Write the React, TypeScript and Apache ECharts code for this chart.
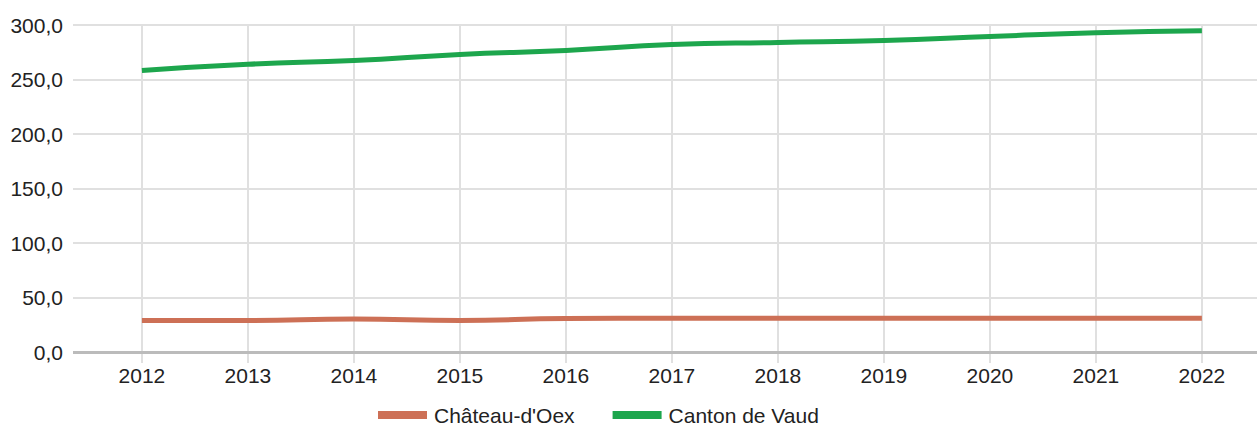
import React, { useEffect, useRef } from "react";
import * as echarts from "echarts";

const years = [2012, 2013, 2014, 2015, 2016, 2017, 2018, 2019, 2020, 2021, 2022];
const chateauDoex = [28.9, 28.9, 30.3, 28.9, 30.7, 31.0, 31.0, 31.0, 31.0, 31.0, 31.0];
const cantonDeVaud = [258.3, 264.0, 267.4, 273.0, 276.6, 282.0, 284.0, 285.8, 289.4, 293.0, 294.8];
const seriesNames = ["Château-d'Oex", "Canton de Vaud"];
const yTicks = [0, 50, 100, 150, 200, 250, 300];

const FONT = "'Liberation Sans', Arial, sans-serif";

export default function App() {
  const ref = useRef<HTMLDivElement>(null);
  useEffect(() => {
    if (!ref.current) return;
    const chart = echarts.init(ref.current, undefined, { renderer: "svg" });
    chart.setOption({
      animation: false,
      textStyle: { fontFamily: FONT },
      grid: { left: 73, right: 0, top: 25, bottom: 76, containLabel: false },
      legend: {
        left: 378,
        top: 404,
        padding: 0,
        icon: "rect",
        itemWidth: 49,
        itemHeight: 8,
        itemGap: 38,
        textStyle: { fontSize: 21, lineHeight: 22, color: "#222", fontFamily: FONT, padding: [0, 0, 0, 2] },
        data: seriesNames,
      },
      xAxis: {
        type: "value",
        min: 2011.35,
        max: 2022.52,
        axisLine: { show: false },
        axisTick: {
          show: true,
          length: 11,
          customValues: years,
          lineStyle: { color: "#e0e0e0", width: 2 },
        },
        axisLabel: {
          customValues: years,
          fontSize: 21,
          color: "#222",
          margin: 13,
          fontFamily: FONT,
          formatter: (v: number) => String(v),
        },
        splitLine: { show: true, lineStyle: { color: "#e0e0e0", width: 2 } },
      },
      yAxis: {
        type: "value",
        min: 0,
        max: 300,
        interval: 50,
        axisLine: { show: false },
        axisTick: { show: false },
        axisLabel: {
          fontSize: 21,
          color: "#222",
          margin: 10,
          fontFamily: FONT,
          formatter: (v: number) => (yTicks.includes(v) ? v.toFixed(1).replace(".", ",") : ""),
        },
        splitLine: { show: true, lineStyle: { color: "#e0e0e0", width: 2 } },
      },
      series: [
        {
          name: seriesNames[0],
          type: "line",
          smooth: true,
          symbol: "none",
          data: years.map((y, i) => [y, chateauDoex[i]]),
          lineStyle: { color: "#cd7056", width: 5 },
          itemStyle: { color: "#cd7056" },
          z: 3,
        },
        {
          name: seriesNames[1],
          type: "line",
          smooth: true,
          symbol: "none",
          data: years.map((y, i) => [y, cantonDeVaud[i]]),
          lineStyle: { color: "#1da64d", width: 5 },
          itemStyle: { color: "#1da64d" },
          z: 3,
        },
        {
          type: "line",
          silent: true,
          symbol: "none",
          data: [],
          markLine: {
            silent: true,
            symbol: "none",
            label: { show: false },
            lineStyle: { color: "#bbbbbb", width: 3, type: "solid" },
            data: [{ yAxis: 0 }],
          },
          z: 2,
        },
      ],
    });
    return () => chart.dispose();
  }, []);
  return (
    <div
      ref={ref}
      style={{ position: "absolute", left: 0, top: 0, width: 1257, height: 428 }}
    />
  );
}
